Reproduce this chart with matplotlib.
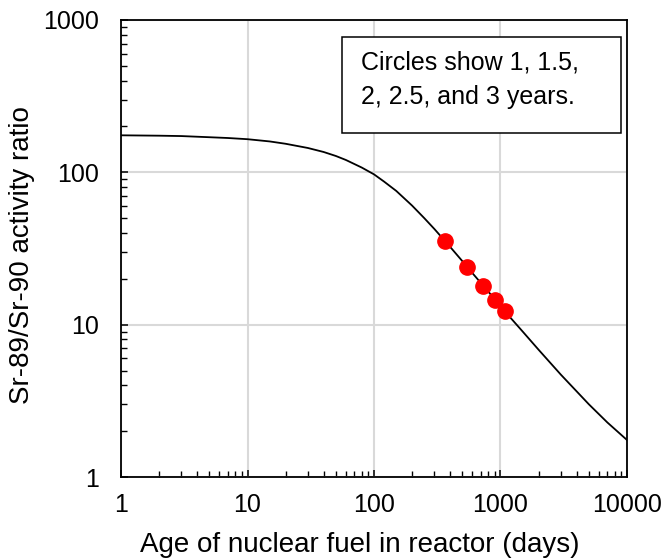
import numpy as np
import matplotlib.pyplot as plt
from matplotlib.patches import Rectangle
from matplotlib.ticker import LogLocator, FixedLocator, NullFormatter

plt.rcParams['font.family'] = ['Liberation Sans', 'DejaVu Sans']

# curve (days, ratio)
days = [1, 2, 3, 5, 7, 10, 15, 20, 30, 40, 50, 60, 80, 100, 120, 150, 200,
        250, 300, 400, 500, 600, 800, 1000, 1200, 1500, 2000, 3000, 4000,
        5000, 7000, 10000]
ratio = [175, 174, 173, 170, 168, 165, 159.5, 154, 144.5, 136, 128, 120.5,
         107.5, 97, 87, 75.5, 60.5, 50, 42.5, 32.4, 26.1, 21.8, 16.5, 13.3,
         11.1, 9.0, 6.85, 4.7, 3.65, 3.0, 2.28, 1.75]

# red circles at 1, 1.5, 2, 2.5 and 3 years
pt_days = [365, 548, 730, 913, 1095]
pt_ratio = [35.5, 24.0, 18.0, 14.6, 12.3]

xticks = [1, 10, 100, 1000, 10000]
yticks = [1, 10, 100, 1000]

fs = 18
fs_lab = 20

fig = plt.figure(figsize=(6.66, 5.6), dpi=100)
ax = fig.add_axes([0.1817, 0.1482, 0.7597, 0.8161])

ax.plot(days, ratio, color='black', lw=1.3, zorder=3)
ax.plot(pt_days, pt_ratio, 'o', color='red', ms=11, mec='red', zorder=4)

ax.set_xscale('log')
ax.set_yscale('log')
ax.set_xlim(1, 10000)
ax.set_ylim(1, 1000)

ax.xaxis.set_major_locator(FixedLocator(xticks))
ax.yaxis.set_major_locator(FixedLocator(yticks))
ax.set_xticklabels([str(v) for v in xticks])
ax.set_yticklabels([str(v) for v in yticks])
ax.xaxis.set_minor_locator(LogLocator(base=10, subs=np.arange(2, 10)))
ax.yaxis.set_minor_locator(LogLocator(base=10, subs=np.arange(2, 10)))
ax.xaxis.set_minor_formatter(NullFormatter())
ax.yaxis.set_minor_formatter(NullFormatter())

ax.tick_params(which='major', direction='in', length=5, width=1.1,
               labelsize=fs)
ax.tick_params(which='minor', direction='in', length=4, width=1.0)
ax.tick_params(axis='y', pad=16)
ax.tick_params(axis='x', pad=11.5)

ax.grid(True, which='major', color='#d9d9d9', lw=1.5, zorder=0)
for s in ax.spines.values():
    s.set_linewidth(1.3)

ax.set_xlabel('Age of nuclear fuel in reactor (days)', fontsize=fs_lab)
ax.set_ylabel('Sr-89/Sr-90 activity ratio', fontsize=fs_lab)
ax.xaxis.set_label_coords(0.472, -0.121)
ax.yaxis.set_label_coords(-0.17, 0.485)

ax.add_patch(Rectangle((0.436, 0.7527), 0.552, 0.2108, transform=ax.transAxes,
                       facecolor='white', edgecolor='black', lw=1.1, zorder=5))
ax.text(0.474, 0.906, 'Circles show 1, 1.5,', transform=ax.transAxes,
        fontsize=fs, va='center', ha='left', zorder=6)
ax.text(0.474, 0.831, '2, 2.5, and 3 years.', transform=ax.transAxes,
        fontsize=fs, va='center', ha='left', zorder=6)

fig.savefig('out.png', dpi=100)
